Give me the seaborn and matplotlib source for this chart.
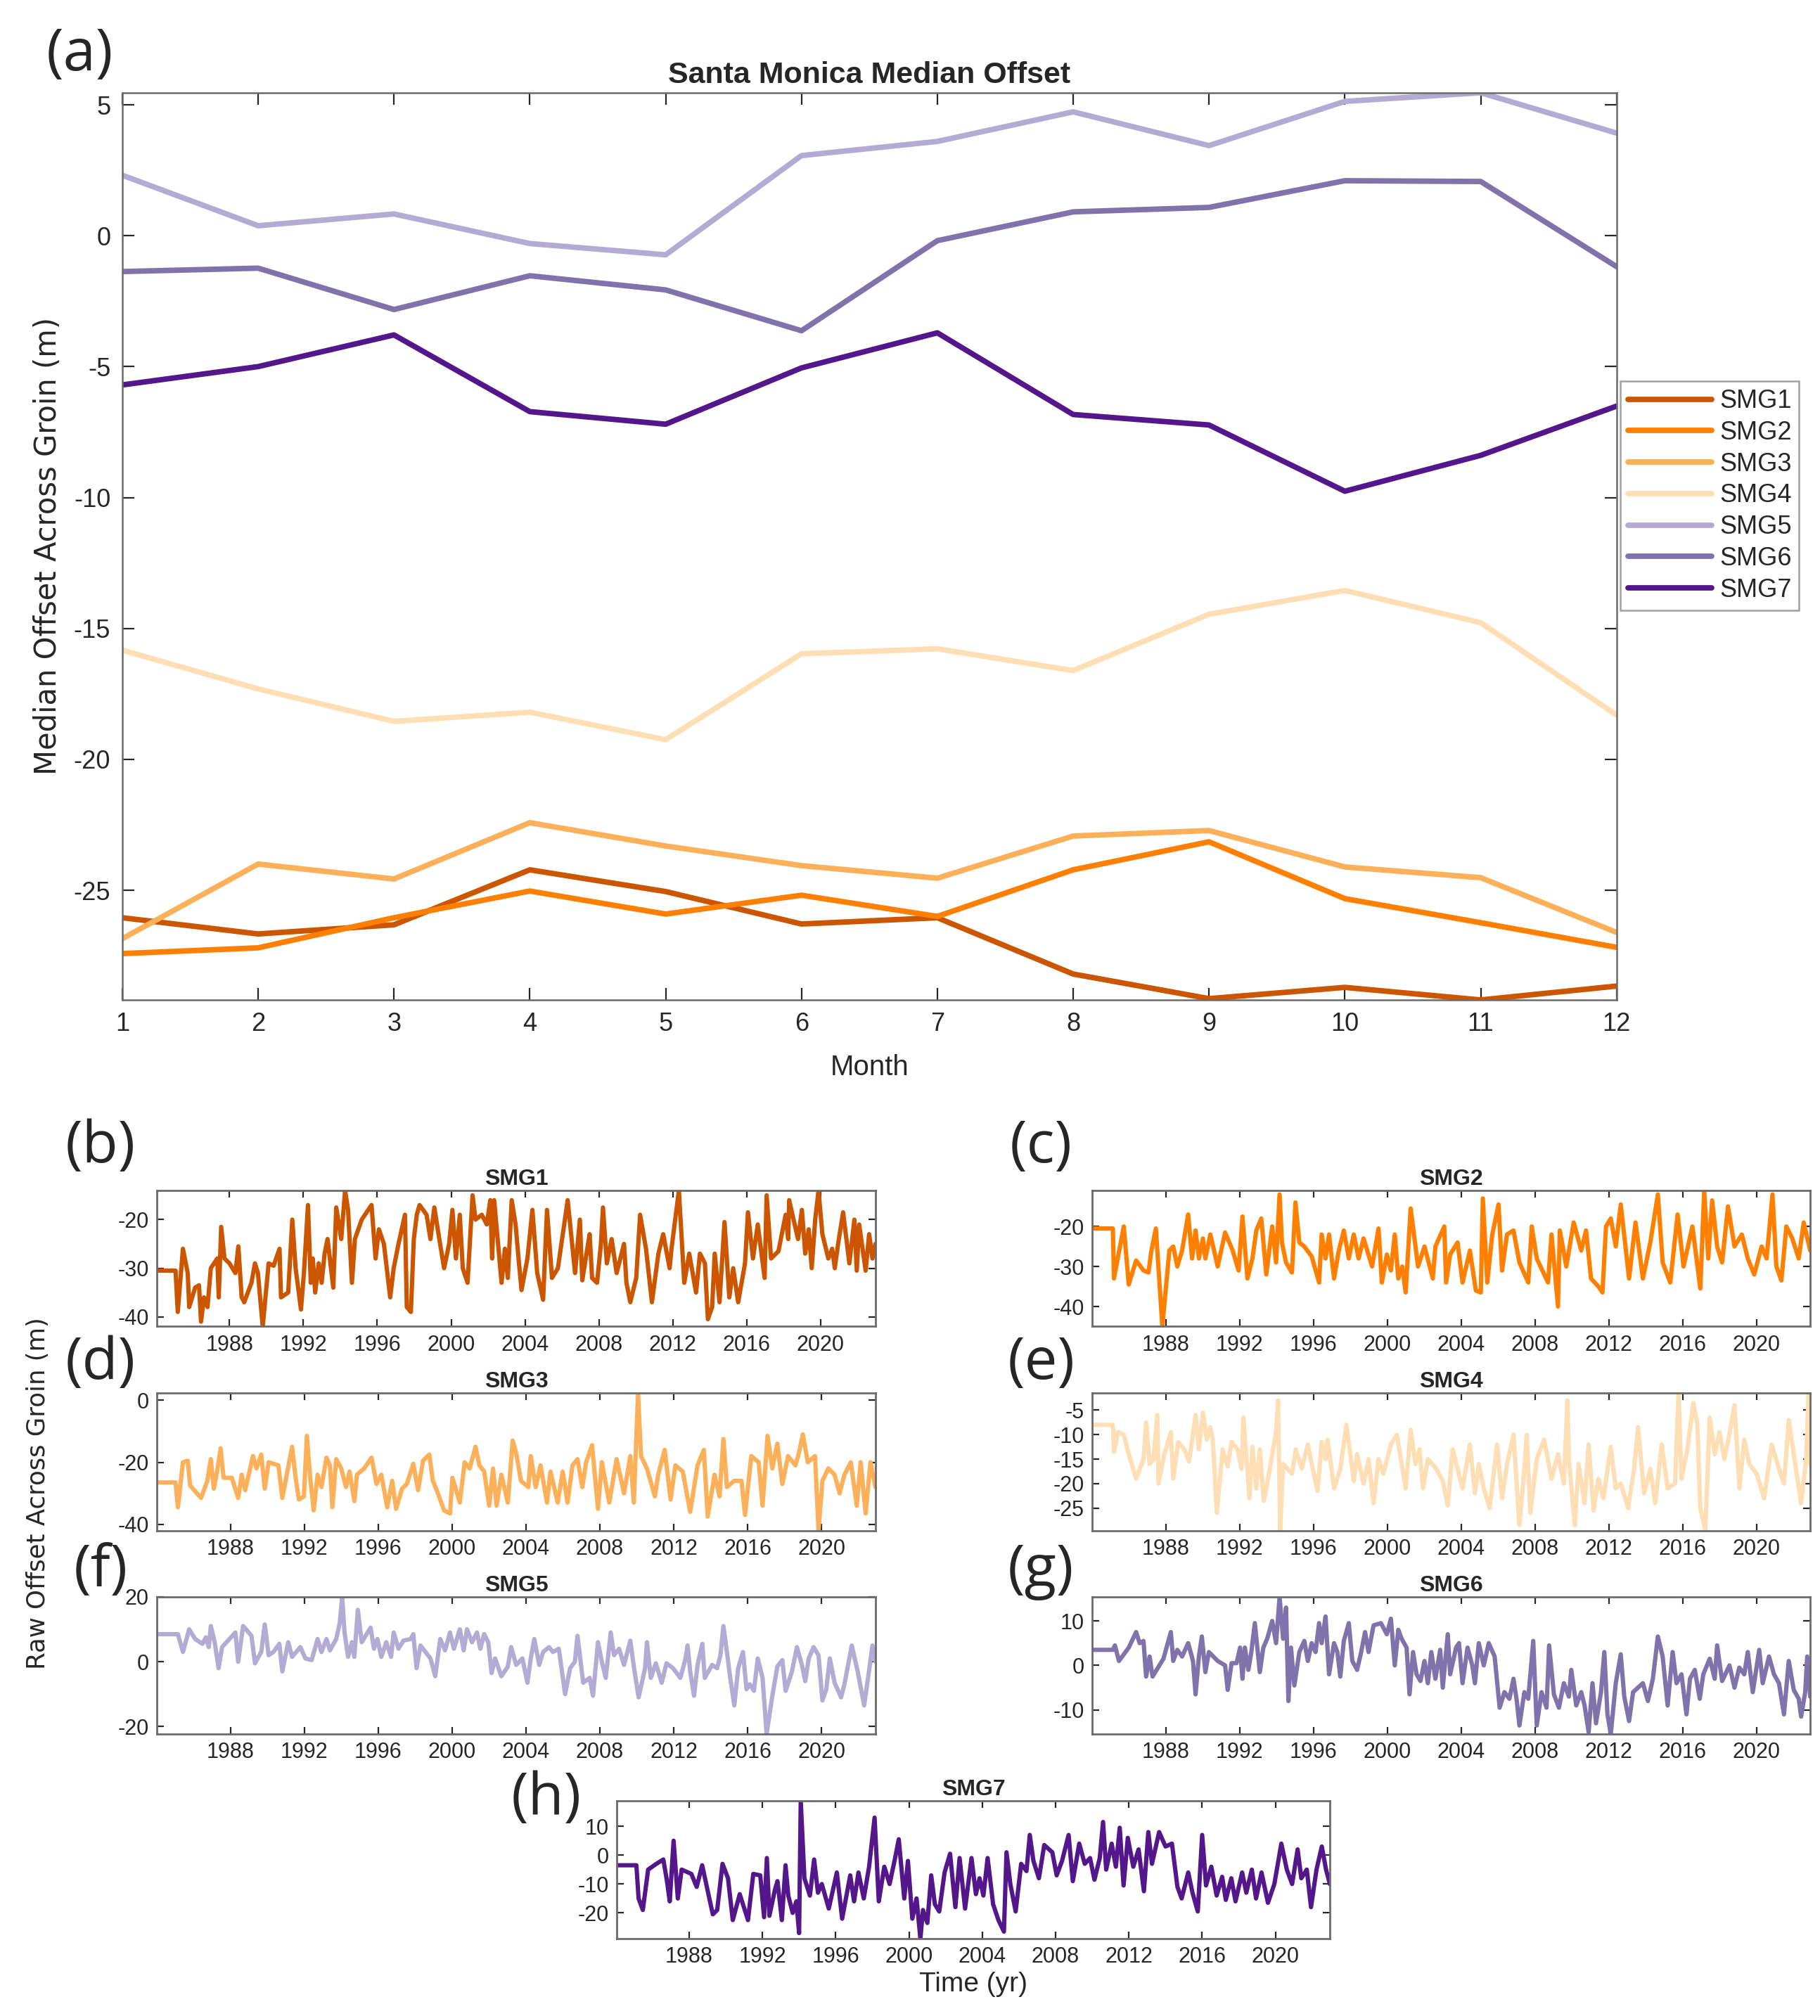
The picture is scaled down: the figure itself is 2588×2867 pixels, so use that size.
import numpy as np
import pandas as pd
import seaborn as sns
import matplotlib.pyplot as plt

# ---- data ----
months = list(range(1, 13))
groins = ['SMG1', 'SMG2', 'SMG3', 'SMG4', 'SMG5', 'SMG6', 'SMG7']
colors = ['#CC5500', '#FF8000', '#FDB05A', '#FEDFB5', '#B3ABD3', '#8073AC', '#54178B']

# monthly median offset (m)
med_smg1 = [-26.05, -26.67, -26.32, -24.22, -25.05, -26.29, -26.05, -28.20, -29.14, -28.71, -29.19, -28.66]
med_smg2 = [-27.42, -27.20, -26.05, -25.03, -25.91, -25.19, -26.00, -24.22, -23.15, -25.32, -26.24, -27.18]
med_smg3 = [-26.85, -24.00, -24.57, -22.42, -23.31, -24.06, -24.54, -22.93, -22.72, -24.11, -24.52, -26.61]
med_smg4 = [-15.83, -17.31, -18.55, -18.20, -19.25, -15.97, -15.78, -16.61, -14.46, -13.55, -14.78, -18.31]
med_smg5 = [2.31, 0.38, 0.83, -0.30, -0.73, 3.06, 3.60, 4.73, 3.44, 5.13, 5.46, 3.92]
med_smg6 = [-1.37, -1.24, -2.82, -1.53, -2.07, -3.63, -0.19, 0.91, 1.08, 2.10, 2.07, -1.18]
med_smg7 = [-5.70, -5.00, -3.79, -6.72, -7.20, -5.05, -3.71, -6.83, -7.23, -9.76, -8.39, -6.51]

# raw offset time series (year, offset in m)
raw_smg1 = [(1984.07, -30.5), (1985.08, -30.5), (1985.2, -39), (1985.48, -26), (1985.74, -31), (1985.82, -38),
            (1986.14, -34), (1986.35, -33.5), (1986.46, -41), (1986.62, -36), (1986.81, -38), (1986.99, -30),
            (1987.34, -28), (1987.42, -36), (1987.55, -21.5), (1987.73, -28), (1988.0, -29), (1988.32, -31),
            (1988.48, -25.5), (1988.66, -36), (1988.8, -37), (1989.19, -33), (1989.38, -29), (1989.54, -31),
            (1989.8, -42), (1990.12, -29), (1990.39, -29.5), (1990.71, -26), (1990.79, -36), (1991.18, -35),
            (1991.4, -20), (1991.58, -30), (1991.87, -38.5), (1992.03, -31), (1992.25, -17), (1992.4, -33),
            (1992.51, -28), (1992.64, -35), (1992.83, -29), (1992.99, -33), (1993.15, -27), (1993.31, -24),
            (1993.62, -34), (1993.78, -17.5), (1994.05, -24), (1994.26, -14), (1994.42, -18), (1994.63, -33),
            (1994.79, -24), (1995.16, -20), (1995.69, -17), (1995.91, -28), (1996.09, -22), (1996.36, -25),
            (1996.7, -36), (1996.89, -30), (1997.15, -25), (1997.5, -19), (1997.6, -38), (1997.82, -39),
            (1997.98, -24), (1998.14, -19), (1998.29, -17), (1998.67, -19), (1998.88, -24), (1999.09, -17.5),
            (1999.36, -24), (1999.62, -30), (1999.89, -25), (2000.07, -18), (2000.26, -28), (2000.47, -19),
            (2000.63, -30), (2000.89, -33), (2001.16, -15), (2001.32, -20), (2001.66, -19), (2001.93, -21),
            (2002.12, -16), (2002.22, -28), (2002.33, -16), (2002.54, -25), (2002.73, -33), (2002.91, -26),
            (2003.07, -32), (2003.28, -16), (2003.49, -21), (2003.65, -28), (2003.81, -34.5), (2004.13, -28),
            (2004.4, -18), (2004.66, -31), (2004.98, -36.5), (2005.19, -18), (2005.46, -32), (2005.78, -30),
            (2006.31, -16), (2006.71, -31), (2006.97, -20), (2007.1, -32.5), (2007.37, -26), (2007.5, -23),
            (2007.63, -32), (2007.9, -33), (2008.11, -25), (2008.22, -17.5), (2008.43, -29), (2008.69, -24),
            (2008.96, -31), (2009.36, -25), (2009.49, -33), (2009.7, -37), (2010.02, -32), (2010.23, -19),
            (2010.55, -26), (2010.87, -37), (2011.22, -27), (2011.48, -23), (2011.83, -30), (2011.93, -26),
            (2012.33, -14), (2012.62, -33), (2012.89, -27), (2013.26, -35), (2013.47, -27), (2013.74, -29),
            (2013.9, -40.5), (2014.13, -38), (2014.27, -27), (2014.53, -37), (2014.8, -20.5), (2015.06, -36),
            (2015.27, -30), (2015.54, -37), (2015.91, -29), (2016.07, -18.5), (2016.34, -28), (2016.6, -21),
            (2016.97, -32), (2017.08, -15), (2017.32, -28), (2017.72, -26.5), (2018.11, -19), (2018.25, -24),
            (2018.3, -16), (2018.78, -24), (2018.99, -18), (2019.17, -27), (2019.36, -22), (2019.52, -30),
            (2019.71, -20), (2019.89, -14), (2020.1, -23), (2020.42, -28), (2020.63, -26), (2020.77, -30),
            (2020.95, -25), (2021.22, -18.5), (2021.56, -29), (2021.83, -20), (2021.96, -30.5), (2022.09, -21),
            (2022.44, -30.5), (2022.63, -23), (2022.81, -28), (2022.97, -25)]

raw_smg2 = [(1984.0, -20.5), (1985.13, -20.5), (1985.19, -33), (1985.72, -20), (1985.99, -34.5), (1986.39, -28.5),
            (1986.79, -31), (1987.06, -31.5), (1987.2, -26.5), (1987.46, -20.5), (1987.81, -45), (1988.19, -26),
            (1988.4, -25), (1988.62, -30), (1988.88, -26), (1989.21, -17), (1989.42, -28), (1989.61, -21),
            (1989.79, -28), (1990.01, -23), (1990.14, -28), (1990.41, -22), (1990.81, -30), (1991.21, -21.5),
            (1991.62, -26), (1991.94, -31), (1992.15, -17.5), (1992.42, -33), (1992.69, -28), (1992.9, -21),
            (1993.17, -18), (1993.44, -32), (1993.76, -20), (1993.97, -29), (1994.16, -12), (1994.29, -24),
            (1994.51, -29), (1994.83, -31.5), (1995.02, -14), (1995.23, -24), (1995.5, -25), (1995.9, -27.5),
            (1996.3, -34), (1996.44, -22), (1996.65, -28), (1996.84, -22), (1997.11, -33), (1997.37, -26),
            (1997.64, -21), (1997.91, -28), (1998.18, -22), (1998.44, -28), (1998.71, -23), (1999.17, -30),
            (1999.52, -20.5), (1999.7, -34), (1999.97, -27), (2000.19, -31), (2000.4, -22), (2000.59, -33),
            (2000.8, -30), (2000.99, -36.5), (2001.26, -15.5), (2001.66, -30), (2002.01, -25), (2002.46, -33),
            (2002.6, -25), (2003.08, -20), (2003.18, -34), (2003.4, -27), (2003.8, -24), (2004.07, -34),
            (2004.47, -26), (2004.79, -36), (2005.06, -36.5), (2005.17, -13), (2005.41, -34), (2005.68, -22),
            (2006.02, -14.5), (2006.21, -31), (2006.48, -22), (2006.83, -21), (2007.15, -29), (2007.63, -34),
            (2007.82, -20), (2008.09, -28), (2008.7, -34), (2008.89, -22), (2009.24, -40), (2009.34, -21),
            (2009.69, -30), (2010.09, -19), (2010.5, -26), (2010.76, -21), (2011.03, -33), (2011.43, -35),
            (2011.65, -36.5), (2011.84, -20), (2012.1, -18), (2012.37, -25), (2012.64, -14.5), (2013.09, -33),
            (2013.44, -19), (2013.84, -33), (2014.24, -24), (2014.65, -12), (2014.91, -29), (2015.32, -34),
            (2015.72, -17), (2016.04, -30), (2016.52, -20), (2016.95, -35.5), (2017.16, -11), (2017.38, -28),
            (2017.59, -13.5), (2017.86, -25), (2018.13, -29), (2018.45, -15), (2018.8, -25), (2019.2, -22),
            (2019.52, -28), (2019.87, -32), (2020.27, -25), (2020.54, -28), (2020.86, -12), (2021.07, -30),
            (2021.34, -33.5), (2021.61, -20), (2021.93, -23), (2022.28, -28), (2022.55, -19), (2022.9, -26)]

raw_smg3 = [(1984.02, -26.5), (1985.03, -26.5), (1985.16, -34.5), (1985.43, -20), (1985.69, -19.5), (1985.82, -27.5),
            (1986.41, -31.5), (1986.75, -26), (1986.94, -19), (1987.1, -28.5), (1987.28, -23), (1987.47, -15.5),
            (1987.63, -25), (1988.08, -25), (1988.42, -31.5), (1988.61, -24), (1988.8, -29), (1989.22, -18),
            (1989.41, -22), (1989.67, -17.5), (1989.86, -28.5), (1990.07, -20), (1990.6, -21), (1990.81, -31.5),
            (1991.34, -15), (1991.53, -25), (1991.71, -32), (1991.98, -31), (1992.14, -11.5), (1992.32, -25),
            (1992.51, -35.5), (1992.72, -24), (1992.93, -28), (1993.2, -18.5), (1993.39, -21), (1993.52, -34.5),
            (1993.73, -19), (1994.0, -22), (1994.26, -28), (1994.45, -23), (1994.71, -32.5), (1994.85, -24),
            (1995.24, -22), (1995.64, -18.5), (1995.91, -27), (1996.17, -24), (1996.49, -34.5), (1996.76, -26),
            (1996.97, -35), (1997.29, -28.5), (1997.55, -27), (1997.9, -20.5), (1998.16, -29), (1998.43, -19.5),
            (1998.77, -17.5), (1998.96, -26), (1999.14, -28.5), (1999.57, -35.5), (1999.89, -36.5), (2000.02, -25),
            (2000.42, -33), (2000.68, -20), (2000.95, -22), (2001.27, -15), (2001.48, -21), (2001.74, -23),
            (2002.01, -34), (2002.22, -22), (2002.41, -34), (2002.67, -24), (2003.02, -33), (2003.28, -13),
            (2003.47, -17), (2003.73, -26), (2004.13, -28), (2004.26, -18), (2004.53, -28), (2004.79, -21),
            (2005.14, -33), (2005.33, -23), (2005.72, -33), (2005.99, -23), (2006.25, -33), (2006.52, -21),
            (2006.79, -19), (2007.05, -28), (2007.26, -20), (2007.58, -14.5), (2007.9, -35), (2008.11, -20),
            (2008.51, -33), (2008.91, -19), (2009.31, -30), (2009.65, -18), (2009.84, -33), (2010.07, 2.3),
            (2010.23, -18), (2010.55, -22), (2010.98, -31), (2011.16, -24), (2011.51, -16), (2011.83, -32),
            (2012.09, -21), (2012.49, -23), (2012.89, -36), (2013.29, -21), (2013.63, -16), (2013.84, -37.5),
            (2014.21, -24), (2014.48, -31), (2014.69, -12.5), (2014.88, -28), (2015.27, -26), (2015.67, -26),
            (2015.86, -37), (2016.2, -18), (2016.6, -20), (2016.81, -34), (2017.08, -11.5), (2017.34, -22),
            (2017.61, -14), (2017.88, -27), (2018.19, -18), (2018.59, -21), (2018.78, -17), (2018.99, -11),
            (2019.26, -20), (2019.65, -18), (2019.84, -42), (2020.05, -26), (2020.37, -22), (2020.71, -24),
            (2020.98, -30), (2021.24, -24), (2021.59, -20), (2021.91, -34), (2022.12, -20), (2022.39, -36.5),
            (2022.65, -20), (2022.92, -28)]

raw_smg4 = [(1984.0, -8), (1985.13, -8), (1985.19, -13.5), (1985.4, -9.5), (1985.72, -10), (1985.99, -14),
            (1986.39, -19), (1986.79, -15), (1986.93, -7.5), (1987.12, -16), (1987.33, -15), (1987.54, -6),
            (1987.6, -20), (1987.92, -14), (1988.27, -9.5), (1988.4, -19), (1988.67, -11.5), (1988.99, -13),
            (1989.26, -15.5), (1989.61, -6), (1989.79, -13), (1990.01, -5.5), (1990.22, -11), (1990.41, -8.5),
            (1990.54, -11), (1990.76, -26), (1991.08, -13), (1991.35, -16.5), (1991.56, -11.5), (1991.88, -13),
            (1992.1, -17), (1992.2, -6.5), (1992.53, -23), (1992.69, -12.5), (1992.9, -21), (1993.09, -13),
            (1993.3, -23.5), (1993.49, -20), (1993.76, -14), (1993.97, -9.5), (1994.08, -3), (1994.19, -29.6),
            (1994.35, -16), (1994.83, -18), (1995.04, -13), (1995.36, -17), (1995.69, -12), (1995.9, -16),
            (1996.22, -21.5), (1996.44, -11.5), (1996.65, -15), (1996.76, -11), (1997.11, -21), (1997.45, -17),
            (1997.78, -8), (1997.99, -14), (1998.18, -19.5), (1998.36, -14), (1998.71, -20), (1998.98, -15),
            (1999.25, -24), (1999.52, -15), (1999.78, -18), (2000.19, -12), (2000.51, -10), (2000.77, -16),
            (2000.99, -21), (2001.26, -9), (2001.52, -16), (2001.74, -13), (2001.93, -21), (2002.19, -15),
            (2002.65, -17), (2003.0, -19.5), (2003.27, -24.5), (2003.53, -13), (2003.8, -17), (2004.07, -21),
            (2004.47, -12), (2004.74, -22), (2004.95, -16), (2005.22, -21), (2005.54, -25), (2005.94, -12),
            (2006.21, -23), (2006.48, -16), (2006.83, -10), (2007.15, -28.5), (2007.42, -17), (2007.55, -10),
            (2007.74, -26), (2008.09, -15), (2008.49, -11), (2008.89, -19), (2009.24, -14), (2009.56, -20),
            (2009.75, -3), (2009.83, -15), (2010.15, -28.5), (2010.36, -16), (2010.68, -24), (2010.9, -12),
            (2011.17, -25.5), (2011.43, -19), (2011.7, -23), (2012.1, -12.5), (2012.37, -21), (2012.64, -20),
            (2013.04, -25), (2013.36, -17), (2013.58, -8.5), (2013.9, -22), (2014.24, -17), (2014.51, -24),
            (2014.86, -12), (2015.18, -21), (2015.58, -20), (2015.77, -1.5), (2015.93, -19), (2016.25, -13),
            (2016.57, -3.5), (2016.79, -8), (2016.95, -25), (2017.22, -29.6), (2017.46, -6.5), (2017.73, -14),
            (2017.99, -9.5), (2018.25, -15), (2018.52, -10), (2018.8, -4), (2019.07, -21), (2019.33, -11),
            (2019.6, -16), (2020.0, -18), (2020.41, -23), (2020.81, -12), (2021.13, -16), (2021.48, -20),
            (2021.74, -7), (2022.01, -14), (2022.41, -24), (2022.68, -15), (2022.81, -2), (2022.9, -16)]

raw_smg5 = [(1984.02, 8.5), (1985.16, 8.5), (1985.43, 3), (1985.77, 10), (1986.09, 7), (1986.49, 5.5),
            (1986.67, 7.5), (1986.83, 4.5), (1986.94, 11), (1987.15, 6), (1987.36, -2), (1987.55, 4.5),
            (1988.27, 9), (1988.42, 0), (1988.69, 11), (1989.14, 8), (1989.33, -0.5), (1989.67, 3),
            (1989.86, 11.5), (1990.07, 2), (1990.33, 3), (1990.65, 5.5), (1990.81, -3), (1991.13, 6),
            (1991.34, 1.5), (1991.79, 4.5), (1992.06, 1), (1992.4, 0.5), (1992.72, 7), (1992.93, 3),
            (1993.2, 7), (1993.39, 3.5), (1993.73, 7), (1993.92, 12), (1994.05, 20), (1994.18, 9),
            (1994.37, 1.5), (1994.58, 6), (1994.71, 1.5), (1994.9, 16), (1995.11, 6), (1995.59, 10.5),
            (1995.77, 4), (1995.96, 7), (1996.17, 1.5), (1996.44, 6), (1996.7, 1.5), (1996.84, 9),
            (1997.1, 4), (1997.37, 6.5), (1997.76, 7), (1997.9, 8.5), (1998.08, -2), (1998.29, 5),
            (1998.56, 3), (1998.83, 1), (1999.09, -4.5), (1999.36, 7), (1999.62, 3.5), (1999.89, 9),
            (2000.1, 4), (2000.42, 10), (2000.63, 3.5), (2000.81, 10), (2001.08, 6), (2001.35, 9),
            (2001.53, 4), (2001.74, 8.5), (2001.96, 6), (2002.14, -3.5), (2002.33, 1), (2002.67, -4.5),
            (2003.02, -1.5), (2003.2, 4.5), (2003.47, -1), (2003.81, 1), (2004.08, -6.5), (2004.26, 1),
            (2004.45, 7), (2004.72, -1), (2004.93, 3), (2005.25, 4.5), (2005.46, 3), (2005.78, 4),
            (2006.12, -10), (2006.39, -2), (2006.65, 0), (2006.79, 8), (2007.1, -6.5), (2007.45, -5),
            (2007.63, -10.5), (2007.9, 6), (2008.11, 0), (2008.32, -5), (2008.59, 9), (2008.77, 2),
            (2009.04, 4), (2009.31, -1), (2009.65, 6.5), (2009.84, -1.5), (2010.1, -11), (2010.45, -2),
            (2010.55, 6), (2010.76, -5), (2011.03, -0.5), (2011.35, -6.5), (2011.61, -0.5), (2011.96, -2),
            (2012.36, -5), (2012.62, 0.5), (2012.75, 5), (2012.89, -3), (2013.1, -10.5), (2013.29, -1),
            (2013.55, 5.5), (2013.68, -5), (2014.08, -1), (2014.35, -2), (2014.53, 2), (2014.69, 11),
            (2014.88, 3), (2015.06, -5), (2015.28, -13.5), (2015.49, -2), (2015.75, 3), (2015.94, -8.5),
            (2016.12, -7), (2016.34, -9), (2016.55, 1), (2016.81, -5), (2017.03, -22.3), (2017.34, -10.5),
            (2017.61, -1.5), (2017.88, 0.5), (2018.06, -9), (2018.4, -3), (2018.67, 4.5), (2018.94, -1),
            (2019.12, -6), (2019.31, 1), (2019.57, 4.5), (2019.84, 2), (2020.05, -12), (2020.26, -8.5),
            (2020.45, 1), (2020.71, -6.5), (2021.06, -11), (2021.24, -7), (2021.64, 5), (2021.96, -3),
            (2022.31, -13.5), (2022.57, -3), (2022.76, 5), (2022.92, 0)]

raw_smg6 = [(1984.0, 3.5), (1985.13, 3.5), (1985.24, 4.5), (1985.46, 1), (1985.99, 4), (1986.39, 7.5),
            (1986.58, 5), (1986.79, 5.5), (1986.93, -2.5), (1987.12, 2), (1987.28, -2.5), (1987.87, 1.5),
            (1988.27, 7.5), (1988.4, 1), (1988.62, 3.5), (1988.88, 2), (1989.21, 5), (1989.47, 1),
            (1989.61, -6.5), (1989.79, 2), (1989.95, 6.5), (1990.14, -1.5), (1990.33, 3), (1990.81, 1),
            (1991.21, 0), (1991.35, -5.5), (1991.56, 0.5), (1991.83, 0.5), (1992.02, 4), (1992.15, -3),
            (1992.28, 4), (1992.47, -1), (1992.63, 3), (1992.82, 9.5), (1993.09, -1.5), (1993.28, 4),
            (1993.49, 6), (1993.76, 10), (1993.97, 5), (1994.16, 15.4), (1994.35, 6), (1994.51, 13),
            (1994.64, -8), (1994.78, 4), (1994.96, -4.5), (1995.23, 3), (1995.5, 5.5), (1995.69, 1),
            (1995.9, 5), (1996.11, 3), (1996.3, 9.5), (1996.44, 5), (1996.65, 11), (1996.84, -2),
            (1997.11, 5), (1997.29, 3), (1997.45, -2.5), (1997.64, 5.5), (1997.91, 9.5), (1998.1, 1),
            (1998.36, -1), (1998.58, 3), (1998.79, 7.5), (1998.98, 3), (1999.25, 9), (1999.65, 9.5),
            (1999.97, 7), (2000.19, 10.5), (2000.4, 0), (2000.59, 8), (2000.77, 6), (2001.04, 4),
            (2001.2, -6.5), (2001.39, 3), (2001.58, -2), (2001.79, -3.5), (2002.01, 1), (2002.19, -4),
            (2002.38, 3), (2002.6, -3), (2002.86, 3.5), (2003.0, -5), (2003.27, 7), (2003.4, -2),
            (2003.72, 4), (2003.88, 5), (2004.07, -4), (2004.34, 4), (2004.6, 0), (2004.74, -4),
            (2004.95, 5), (2005.22, 0), (2005.49, 5), (2005.81, 2), (2006.08, -9.5), (2006.34, -6),
            (2006.61, -7.5), (2006.83, -3), (2007.01, -8), (2007.15, -13.5), (2007.42, -6), (2007.63, -7.5),
            (2007.9, 5.5), (2008.09, -13.5), (2008.35, -6), (2008.62, -9.5), (2008.76, 4.5), (2009.02, -6.5),
            (2009.29, -9.5), (2009.56, -4), (2009.83, -7), (2009.96, -1), (2010.23, -9), (2010.5, -6),
            (2010.68, -9), (2010.9, -15), (2011.11, -4), (2011.3, -13), (2011.57, -6), (2011.75, 3),
            (2011.92, -11), (2012.1, -15.4), (2012.37, -4), (2012.64, 2.5), (2012.83, -7), (2013.09, -12.5),
            (2013.31, -6), (2013.57, -5), (2013.84, -4), (2014.11, -8), (2014.38, -3), (2014.65, 6.5),
            (2014.91, 2), (2015.18, -9), (2015.45, 3), (2015.66, -4), (2015.93, -2), (2016.2, -11),
            (2016.39, -3), (2016.65, -1), (2016.92, -7.5), (2017.11, -2), (2017.46, 1.5), (2017.73, -3),
            (2017.86, 4.5), (2018.13, -3.5), (2018.53, 0), (2018.8, -5), (2019.06, -0.5), (2019.33, -2),
            (2019.52, 3), (2019.79, -6), (2020.14, 3.5), (2020.33, -4), (2020.67, 2), (2020.94, -2),
            (2021.21, -4), (2021.48, -11), (2021.74, 1), (2022.01, -5.5), (2022.28, -7.5), (2022.41, -11.5),
            (2022.63, -6), (2022.74, 2), (2022.9, -7)]

raw_smg7 = [(1984.06, -3.5), (1985.12, -3.5), (1985.24, -15), (1985.47, -19), (1985.76, -5), (1986.21, -3),
            (1986.59, -1.5), (1986.79, -9), (1986.94, -16), (1987.15, 5), (1987.38, -15), (1987.59, -5),
            (1988.12, -6.5), (1988.41, -11), (1988.71, -3.5), (1989.0, -12), (1989.29, -20.5), (1989.53, -19),
            (1989.82, -3), (1990.12, -8), (1990.38, -22.5), (1990.76, -13.5), (1991.21, -22.5), (1991.5, -6.5),
            (1991.88, -7), (1992.09, -21.5), (1992.24, -1), (1992.38, -21), (1992.68, -12), (1992.82, -9),
            (1993.06, -22.5), (1993.26, -3.5), (1993.41, -14), (1993.65, -20), (1993.85, -16), (1994.0, -27),
            (1994.09, 18.8), (1994.29, -8), (1994.59, -14), (1994.82, -1.5), (1995.03, -13), (1995.24, -10),
            (1995.62, -18.5), (1996.06, -6), (1996.35, -22), (1996.79, -7), (1997.0, -16), (1997.24, -6),
            (1997.53, -15), (1997.82, -4), (1998.12, 13), (1998.35, -16), (1998.65, -4), (1998.94, -10),
            (1999.24, -1), (1999.44, 5.5), (1999.74, -15), (1999.94, -2), (2000.18, -22), (2000.41, -15),
            (2000.62, -28.9), (2000.76, -19), (2001.0, -23.5), (2001.21, -7), (2001.41, -17), (2001.65, -19.5),
            (2001.94, -6), (2002.24, 0.5), (2002.53, -18), (2002.76, -1), (2003.06, -18.5), (2003.41, -1),
            (2003.65, -13.5), (2003.85, -8), (2004.06, -14), (2004.29, -1), (2004.59, -17), (2004.88, -22.5),
            (2005.18, -26.5), (2005.32, 1), (2005.53, -10), (2005.82, -19.5), (2006.12, -3), (2006.41, -5.5),
            (2006.59, 7), (2006.79, -2), (2007.09, -8), (2007.38, 3.5), (2007.82, 1), (2008.06, -7),
            (2008.35, -2), (2008.71, 7), (2008.94, -9), (2009.29, 4), (2009.59, -3), (2009.88, -1),
            (2010.12, -8.5), (2010.41, -1), (2010.59, 11.5), (2010.76, -5), (2011.06, 4), (2011.29, -4),
            (2011.5, 9.5), (2011.71, -10.5), (2011.94, 6), (2012.24, -4), (2012.53, 2), (2012.82, -12.5),
            (2013.06, 8), (2013.26, -3), (2013.65, 8), (2014.0, 3), (2014.35, 4), (2014.65, -11),
            (2014.88, -15), (2015.24, -6), (2015.47, -13), (2015.76, -19.5), (2016.0, 7), (2016.21, -10.5),
            (2016.5, -4), (2016.79, -14), (2017.09, -7.5), (2017.29, -15.5), (2017.59, -8), (2017.82, -16),
            (2018.18, -6), (2018.41, -13), (2018.71, -5), (2018.94, -15), (2019.24, -6), (2019.59, -16.5),
            (2019.94, -10), (2020.32, 4), (2020.62, -5), (2020.91, -10), (2021.21, 2), (2021.41, -8),
            (2021.71, -5), (2021.94, -18), (2022.24, -5), (2022.53, 3), (2022.76, -5), (2022.97, -10)]

medians = [med_smg1, med_smg2, med_smg3, med_smg4, med_smg5, med_smg6, med_smg7]
raws = [raw_smg1, raw_smg2, raw_smg3, raw_smg4, raw_smg5, raw_smg6, raw_smg7]
raw_yticks = [[-40, -30, -20], [-40, -30, -20], [-40, -20, 0], [-25, -20, -15, -10, -5],
              [-20, 0, 20], [-10, 0, 10], [-20, -10, 0, 10]]
year_ticks = list(range(1988, 2021, 4))

# ---- style ----
sns.set_style('ticks')
plt.rcParams['font.family'] = ['Liberation Sans', 'DejaVu Sans']
plt.rcParams['axes.unicode_minus'] = False
plt.rcParams['xtick.direction'] = 'in'
plt.rcParams['ytick.direction'] = 'in'
plt.rcParams['xtick.top'] = True
plt.rcParams['ytick.right'] = True
plt.rcParams['xtick.color'] = '#262626'
plt.rcParams['ytick.color'] = '#262626'
spine_col = '#6b6b6b'

fig = plt.figure(figsize=(12.94, 14.335), dpi=200)

# ---- (a) monthly medians ----
ax = fig.add_axes([0.0672, 0.504, 0.821, 0.45])
df_med = pd.DataFrame({
    'Month': months * len(groins),
    'Offset': np.concatenate(medians),
    'Groin': np.repeat(groins, len(months)),
})
sns.lineplot(data=df_med, x='Month', y='Offset', hue='Groin', hue_order=groins,
             palette=colors, lw=2.8, estimator=None, ax=ax)
ax.set_xlim(1, 12)
ax.set_ylim(df_med['Offset'].min(), df_med['Offset'].max())
ax.set_xticks(months)
ax.set_yticks([-25, -20, -15, -10, -5, 0, 5])
ax.tick_params(labelsize=13, length=6, width=0.8, pad=6)
for s in ax.spines.values():
    s.set_color(spine_col)
    s.set_linewidth(0.9)
ax.set_title('Santa Monica Median Offset', fontsize=15.5, fontweight='bold', pad=5)
ax.set_xlabel('Month', fontsize=14.5)
ax.xaxis.set_label_coords(0.5, -0.06)
ax.set_ylabel('Median Offset Across Groin (m)', fontsize=15, family='DejaVu Sans')
ax.yaxis.set_label_coords(-0.04, 0.5)
h, l = ax.get_legend_handles_labels()
leg = ax.legend(h, l, loc='upper left', bbox_to_anchor=(1.0, 0.686), borderaxespad=0.15,
                fontsize=13, handlelength=3.3, handletextpad=0.3, labelspacing=0.27,
                borderpad=0.3, frameon=True, fancybox=False)
leg.get_frame().set_edgecolor('#8a8a8a')
leg.get_frame().set_linewidth(0.9)
for line in leg.get_lines():
    line.set_linewidth(2.8)
fig.text(0.0438, 0.9725, '(a)', fontsize=30, family='Open Sans', ha='center', va='center')

# ---- (b)-(h) raw series ----
boxes = [[0.0862, 0.342, 0.3948, 0.0675], [0.600, 0.342, 0.3946, 0.0675],
         [0.0862, 0.2408, 0.3948, 0.0682], [0.600, 0.2408, 0.3946, 0.0682],
         [0.0862, 0.1399, 0.3948, 0.068], [0.600, 0.1399, 0.3946, 0.068],
         [0.339, 0.0384, 0.3917, 0.0683]]
letters = ['(b)', '(c)', '(d)', '(e)', '(f)', '(g)', '(h)']
letter_pos = [(0.0552, 0.431), (0.572, 0.431), (0.0552, 0.3235), (0.572, 0.3235),
              (0.0552, 0.2205), (0.572, 0.2205), (0.300, 0.1075)]

for i, name in enumerate(groins):
    t, v = zip(*raws[i])
    axr = fig.add_axes(boxes[i])
    sns.lineplot(x=list(t), y=list(v), color=colors[i], lw=2.2, estimator=None, ax=axr)
    axr.set_xlim(min(t), max(t))
    axr.set_ylim(min(v), max(v))
    axr.set_xticks(year_ticks)
    axr.set_yticks(raw_yticks[i])
    axr.tick_params(labelsize=11, length=3.5, width=0.8, pad=4)
    for s in axr.spines.values():
        s.set_color(spine_col)
        s.set_linewidth(1.0)
    axr.set_title(name, fontsize=11.5, fontweight='bold', pad=3)
    fig.text(letter_pos[i][0], letter_pos[i][1], letters[i], fontsize=30, family='Open Sans',
             ha='center', va='center')
    if name == 'SMG7':
        axr.set_xlabel('Time (yr)', fontsize=14)
        axr.xaxis.set_label_coords(0.5, -0.24)

fig.text(0.021, 0.2593, 'Raw Offset Across Groin (m)', fontsize=12.8, family='DejaVu Sans',
         rotation=90, ha='center', va='center')

fig.savefig('out.png', dpi=200)
